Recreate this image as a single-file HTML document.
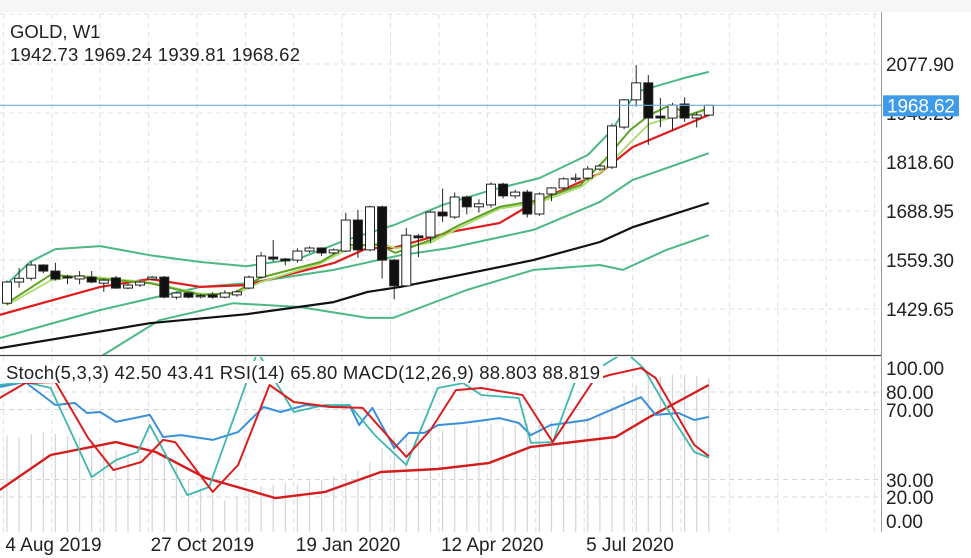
<!DOCTYPE html>
<html><head><meta charset="utf-8">
<style>
body{margin:0;background:#fff;width:971px;height:558px;overflow:hidden;font-family:"Liberation Sans",sans-serif}
svg{display:block}
</style></head>
<body>
<svg id="chart" width="971" height="558" viewBox="0 0 971 558" xmlns="http://www.w3.org/2000/svg" font-family="Liberation Sans, sans-serif">
<rect x="0" y="0" width="971" height="12" fill="#f6f6f6"/>
<g id="grid"></g>
<g id="main"></g>
<g id="ind"></g>
<g id="axes"></g>
<text x="10" y="38" font-size="18.5" fill="#222">GOLD, W1</text>
<text x="10" y="61" font-size="18.5" fill="#222" textLength="290">1942.73 1969.24 1939.81 1968.62</text>
</svg>
<script>
// ---- data ----
const opens  = [1445,1501,1511,1546,1530,1515,1509,1514,1498,1512,1485,1493,1509,1514,1461,1472,1464,1467,1461,1467,1485,1514,1567,1562,1559,1583,1591,1578,1583,1665,1586,1700,1559,1491,1623,1620,1686,1673,1726,1700,1705,1760,1729,1739,1681,1734,1750,1774,1776,1800,1805,1911,1983,2028,1940,1935,1972,1935,1942.73];
const closes = [1501,1511,1546,1530,1509,1513,1517,1501,1506,1485,1493,1501,1514,1461,1472,1461,1465,1461,1472,1475,1514,1570,1562,1557,1583,1591,1578,1586,1665,1586,1700,1559,1491,1625,1618,1686,1676,1726,1700,1708,1760,1729,1739,1681,1734,1750,1774,1776,1800,1808,1914,1983,2028,1935,1935,1969,1935,1943,1968.62];
const highs  = [1505,1538,1555,1548,1552,1520,1530,1530,1510,1517,1497,1505,1517,1517,1476,1474,1470,1474,1479,1480,1518,1580,1612,1565,1590,1595,1593,1590,1684,1692,1703,1703,1562,1644,1628,1690,1748,1738,1730,1720,1765,1764,1745,1745,1738,1752,1778,1788,1808,1812,1920,1985,2075,2049,1988,1975,1990,1950,1969.24];
const lows   = [1440,1486,1505,1525,1505,1495,1495,1498,1475,1483,1482,1488,1505,1458,1455,1458,1458,1457,1458,1462,1482,1510,1555,1545,1552,1578,1570,1574,1580,1565,1582,1510,1455,1488,1567,1605,1660,1668,1680,1685,1698,1722,1722,1672,1676,1715,1745,1765,1770,1795,1800,1905,1965,1864,1911,1903,1925,1910,1939.81];

const bbUpperIdx = [0,1.9,4,7.7,11.8,16,19.8,24.2,28,32,36,40,44,48,50,52,56,58];
const bbUpperVal = [1496,1554,1588,1596,1572,1554,1543,1564,1612,1652,1705,1744,1776,1837,1903,2004,2041,2057];
const bbMidIdx = [-0.6,7.7,16,19.8,27,32.5,36.6,43.5,49,51.7,58];
const bbMidVal = [1353,1427,1488,1498,1533,1572,1591,1639,1713,1771,1842];
const bbLowIdx = [7.7,12.6,18.7,24.2,29.8,31.9,38,43.5,49,50.9,54.5,58];
const bbLowVal = [1303,1400,1445,1435,1406,1406,1480,1533,1546,1533,1586,1625];
const ma50Idx = [-0.6,11.8,19.8,27,29.8,32.5,36.6,43.5,49,51.7,58];
const ma50Val = [1326,1392,1416,1448,1475,1488,1514,1559,1607,1646,1710];
const maRedIdx = [-0.6,7.7,11.8,16,19.8,27,29.8,31.9,36.6,40.7,43.5,49,51.7,58];
const maRedVal = [1414,1488,1509,1488,1493,1551,1591,1591,1633,1657,1710,1789,1858,1943];
const maFastIdx = [0,3.6,6,11.8,16,18.8,20.9,25.9,28.3,30.8,32.1,35,37.4,40.7,44,47.4,49.4,51.5,53.1,54.8,56.4,58];
const maDarkVal = [1445,1520,1514,1498,1467,1472,1512,1554,1599,1599,1578,1612,1652,1700,1718,1758,1824,1903,1943,1969,1943,1961];
const maLightVal = [1440,1505,1518,1500,1470,1468,1500,1550,1590,1605,1590,1605,1645,1695,1712,1752,1800,1870,1920,1935,1945,1958];

const rsiIdx = [-0.6,1.5,4,5.6,6.6,7.7,9,11.8,12.9,14.4,17,19.1,21.2,22.6,24.7,26.8,28.3,29.1,30.2,32,33.2,34.5,35.6,37.7,40.7,42.3,43.3,44.9,48,50.3,52.4,53.6,55.5,56.8,58];
const rsiVal = [82.9,85.7,72.6,73.7,68,68.6,62.9,66.9,54.3,55.4,52.6,57.1,71.4,68.6,72.6,71.4,72.6,61.1,70.9,48,56.6,56.6,61.1,62.3,65.1,62.3,55.4,61.1,64,70.9,77.1,66.9,68,64,65.8];
const macdIdx = [-0.6,3.6,9,12.3,16.4,22.2,26.3,30.9,35.6,39.8,43.3,50.3,53.1,58];
const macdVal = [24,44,51.4,45.7,30.9,19.4,22.9,34.3,36,39.4,48.6,54.3,65.7,84];
const stochKIdx = [-0.6,1.5,3.6,7,9,10.8,11.8,14.9,16.7,20.1,20.7,23.7,26.3,28.3,30.4,33,35.6,37.7,39.2,42.3,43.3,45.1,46.9,51.1,52.6,55.2,56.8,58];
const stochKVal = [84,85.7,82.3,31.4,41.1,45.7,61.1,21.1,25.7,91.4,103,68.6,72.6,72.6,55.4,38.3,82.3,85.1,78.3,76.6,50.9,51.4,85.1,103,93.7,62.9,45.7,42.5];
const stochDIdx = [-0.6,1.5,4,6.7,8.8,11.1,12.9,13.9,17,19.1,21.7,23.7,26.8,29.4,33,35,37.1,39.2,42.6,45.1,48.5,49.8,52.4,53.6,56.8,58];
const stochDVal = [76.6,85.1,85.7,53.7,35.4,40,52.6,51.4,22.9,38.3,84,74.3,71.4,70.9,42.9,58.3,81.1,82.3,78.3,51.4,86.9,89.7,93.7,88,49.7,43.4];
const histVal = [55,54,56,57,56,55,54,52,50,47,45,44,45,43,38,30,25,22,18,20,24,26,27,28,27,29,30,32,33,35,40,48,54,56,55,57,58,60,60,61,62,60,61,62,62,63,63,64,66,68,72,78,84,88,89,90,90,89,88];

const priceTicks = [2077.90,1948.25,1818.60,1688.95,1559.30,1429.65];
const priceTickLabels = ["2077.90","1948.25","1818.60","1688.95","1559.30","1429.65"];
const indTicks = [100,80,70,30,20,0];
const indTickLabels = ["100.00","80.00","70.00","30.00","20.00","0.00"];
const dateTickIdx = [-0.3,11.7,23.7,35.7,47.7];
const dateTickLabels = ["4 Aug 2019","27 Oct 2019","19 Jan 2020","12 Apr 2020","5 Jul 2020"];
const lastPrice = 1968.62;

// ---- scales ----
const X = i => 7 + 12.1*i;
const YP = p => 64 + (2077.9 - p)/2.646;
const YI = v => 532 - 1.75*v;
const NS = "http://www.w3.org/2000/svg";
function mk(tag, attrs, parent){const e=document.createElementNS(NS,tag);for(const k in attrs)e.setAttribute(k,attrs[k]);parent.appendChild(e);return e;}
const grid=document.getElementById('grid'), main=document.getElementById('main'), ind=document.getElementById('ind'), axes=document.getElementById('axes');
const svg=document.getElementById('chart');

const defs=mk('defs',{},svg);
const c1=mk('clipPath',{id:'cm'},defs); mk('rect',{x:0,y:12,width:881,height:343},c1);
const c2=mk('clipPath',{id:'ci'},defs); mk('rect',{x:0,y:357,width:881,height:176},c2);
main.setAttribute('clip-path','url(#cm)');
ind.setAttribute('clip-path','url(#ci)');

const GC='#e0e0e0';
for(let k=-1;k<20;k++){const x=X(-0.3+4*k); if(x<0||x>881)continue;
  const l=mk('line',{x1:x,x2:x,y1:14,y2:532,stroke:GC,'stroke-dasharray':'5,4'},grid);
   }
mk('line',{x1:0,x2:881,y1:14,y2:14,stroke:GC,'stroke-dasharray':'5,4'},grid);
priceTicks.forEach(p=>{const l=mk('line',{x1:0,x2:881,y1:YP(p),y2:YP(p),stroke:GC,'stroke-dasharray':'5,4'},grid);
   });
indTicks.slice(1,5).forEach(v=>{const l=mk('line',{x1:0,x2:881,y1:YI(v),y2:YI(v),stroke:'#d4d4d4','stroke-dasharray':'5,4'},grid);
   });

function line(idx,vals,ys,color,w,parent,name){
  const d=idx.map((i,k)=>(k?'L':'M')+X(i).toFixed(1)+' '+ys(vals[k]).toFixed(1)).join(' ');
  const p=mk('path',{d:d,fill:'none',stroke:color,'stroke-width':w,'stroke-linejoin':'round'},parent);
    return p;}

histVal.forEach((v,i)=>{const r=mk('line',{x1:X(i),x2:X(i),y1:YI(0),y2:YI(v),stroke:'#d4d4d4','stroke-width':1.2},ind);
   });

line(bbUpperIdx,bbUpperVal,YP,'#4cb883',2,main,'bollinger-upper');
line(bbMidIdx,bbMidVal,YP,'#4cb883',2,main,'bollinger-middle');
line(bbLowIdx,bbLowVal,YP,'#4cb883',2,main,'bollinger-lower');
line(ma50Idx,ma50Val,YP,'#111',2.2,main,'moving-average-slow');
line(maRedIdx,maRedVal,YP,'#e01b1b',2.2,main,'moving-average-red');
line(maFastIdx,maLightVal,YP,'#a9dc6a',1.8,main,'moving-average-light-green');
line(maFastIdx,maDarkVal,YP,'#5ea324',2,main,'moving-average-dark-green');

opens.forEach((o,i)=>{const c=closes[i],h=highs[i],l=lows[i],x=X(i);
  const g=mk('g',{},main);
   
  mk('line',{x1:x,x2:x,y1:YP(h),y2:YP(l),stroke:'#222','stroke-width':1},g);
  const top=YP(Math.max(o,c)),bot=YP(Math.min(o,c));
  mk('rect',{x:x-4.5,y:top,width:9,height:Math.max(bot-top,1.2),fill:c>=o?'#fff':'#111',stroke:'#222','stroke-width':1},g);
});

line(macdIdx,macdVal,YI,'#d41c1c',2.4,ind,'macd-signal-line');
line(rsiIdx,rsiVal,YI,'#3a8fdc',2,ind,'rsi-line');
line(stochKIdx,stochKVal,YI,'#3fb6ae',1.8,ind,'stoch-k-line');
line(stochDIdx,stochDVal,YI,'#d81f1f',2,ind,'stoch-d-line');

const cp=mk('line',{x1:0,x2:881,y1:YP(lastPrice),y2:YP(lastPrice),stroke:'#6aaee0','stroke-width':1.2},axes);
 

mk('line',{x1:0,x2:881,y1:355.5,y2:355.5,stroke:'#444','stroke-width':1.2},axes);
mk('line',{x1:881.5,x2:881.5,y1:12,y2:532,stroke:'#999','stroke-width':1},axes);

priceTicks.forEach((p,k)=>{ const t=mk('text',{x:886,y:YP(p)+7,'font-size':19,fill:'#222',textLength:68},axes); t.textContent=priceTickLabels[k];
   });
const box=mk('rect',{x:883,y:YP(lastPrice)-10,width:76,height:21,fill:'#3d9be9'},axes);
 
const bt=mk('text',{x:887,y:YP(lastPrice)+7,'font-size':19,fill:'#fff',textLength:68},axes); bt.textContent=lastPrice.toFixed(2);
 

const indLabelY=[368,392,410,480,497,521];
indTicks.forEach((v,k)=>{const t=mk('text',{x:886,y:indLabelY[k]+7,'font-size':19,fill:'#222'},axes); t.textContent=indTickLabels[k];
   });

dateTickIdx.forEach((i,k)=>{const t=mk('text',{x:X(i)+2,y:551,'font-size':19,fill:'#222'},axes); t.textContent=dateTickLabels[k];
   });

const lb=mk('rect',{x:3,y:361,width:600,height:22,fill:'#fff'},axes);
 
const lt=mk('text',{x:6,y:379,'font-size':18.5,fill:'#222',textLength:594},axes);
lt.textContent='Stoch(5,3,3) 42.50 43.41 RSI(14) 65.80 MACD(12,26,9) 88.803 88.819';
 
</script>
</body></html>
